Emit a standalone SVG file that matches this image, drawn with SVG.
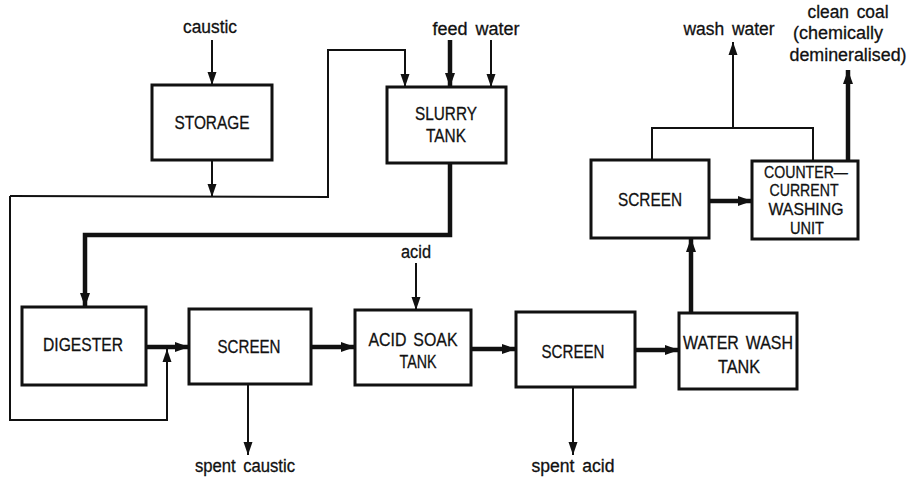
<svg xmlns="http://www.w3.org/2000/svg" width="918" height="477" viewBox="0 0 918 477">
<style>
.box{fill:#fff;stroke:#111;stroke-width:3}
.lbl{font-family:"Liberation Sans",Arial,sans-serif;font-size:19px;fill:#111;text-anchor:middle;stroke:#111;stroke-width:0.3}
.lc{font-size:18px;word-spacing:3px}
.cc{font-size:17px}
.thin{fill:none;stroke:#111;stroke-width:2}
.thick{fill:none;stroke:#111;stroke-width:4.5}
</style>
<defs>
<marker id="a" markerUnits="userSpaceOnUse" markerWidth="14" markerHeight="10" refX="13" refY="5" orient="auto"><path d="M0,0.5 L13,5 L0,9.5 z" fill="#111"/></marker>
<marker id="b" markerUnits="userSpaceOnUse" markerWidth="15" markerHeight="11" refX="14" refY="5.5" orient="auto"><path d="M0,0.5 L14,5.5 L0,10.5 z" fill="#111"/></marker>
</defs>
<rect width="918" height="477" fill="#fff"/>
<g id="connectors">
<path class="thin" d="M212,40 L212,85" marker-end="url(#a)"/>
<path class="thin" d="M212,160 L212,197" marker-end="url(#a)"/>
<path class="thin" d="M10,196 L328,197 L328,50 L405,50 L405,87" marker-end="url(#a)"/>
<path class="thin" d="M10,196 L10,420 L167,420 L167,349" marker-end="url(#a)"/>
<path class="thick" d="M450,40 L450,87" marker-end="url(#b)"/>
<path class="thin" d="M491,40 L491,87" marker-end="url(#a)"/>
<path class="thick" d="M450,163 L450,235 L85,235 L85,307" marker-end="url(#b)"/>
<path class="thick" d="M146,347 L189,347" marker-end="url(#b)"/>
<path class="thin" d="M248,384 L248,455" marker-end="url(#a)"/>
<path class="thick" d="M311,347 L355,347" marker-end="url(#b)"/>
<path class="thin" d="M416,263 L416,310" marker-end="url(#a)"/>
<path class="thick" d="M471,349 L516,349" marker-end="url(#b)"/>
<path class="thin" d="M573,387 L573,455" marker-end="url(#a)"/>
<path class="thick" d="M635,350 L679,350" marker-end="url(#b)"/>
<path class="thick" d="M691,313 L691,238" marker-end="url(#b)"/>
<path class="thick" d="M709,201 L752,201" marker-end="url(#b)"/>
<path class="thin" d="M652,160 L652,128 L813,128 L813,161"/>
<path class="thin" d="M733,128 L733,42" marker-end="url(#a)"/>
<path class="thick" d="M848,161 L848,70" marker-end="url(#b)"/>
</g>
<g id="labels">
<text class="lbl lc" x="210" y="33" textLength="54" lengthAdjust="spacingAndGlyphs">caustic</text>
<text class="lbl lc" x="476" y="35" textLength="87" lengthAdjust="spacingAndGlyphs">feed water</text>
<text class="lbl lc" x="729" y="35" textLength="91" lengthAdjust="spacingAndGlyphs">wash water</text>
<text class="lbl lc" x="848" y="18" textLength="81" lengthAdjust="spacingAndGlyphs">clean coal</text>
<text class="lbl lc" x="838" y="39" textLength="90" lengthAdjust="spacingAndGlyphs">(chemically</text>
<text class="lbl lc" x="848" y="61" textLength="117" lengthAdjust="spacingAndGlyphs">demineralised)</text>
<text class="lbl lc" x="416" y="258" textLength="30" lengthAdjust="spacingAndGlyphs">acid</text>
<text class="lbl lc" x="245" y="472" textLength="100" lengthAdjust="spacingAndGlyphs">spent caustic</text>
<text class="lbl lc" x="573" y="472" textLength="83" lengthAdjust="spacingAndGlyphs">spent acid</text>
</g>
<g id="storage">
<rect class="box" x="152" y="85" width="120" height="75"/>
<text class="lbl" x="212" y="129" textLength="75" lengthAdjust="spacingAndGlyphs">STORAGE</text>
</g>
<g id="slurry-tank">
<rect class="box" x="387" y="87" width="119" height="76"/>
<text class="lbl" x="446" y="120" textLength="62" lengthAdjust="spacingAndGlyphs">SLURRY</text>
<text class="lbl" x="446" y="142" textLength="40" lengthAdjust="spacingAndGlyphs">TANK</text>
</g>
<g id="digester">
<rect class="box" x="22" y="307" width="124" height="78"/>
<text class="lbl" x="83" y="351" textLength="80" lengthAdjust="spacingAndGlyphs">DIGESTER</text>
</g>
<g id="screen1">
<rect class="box" x="189" y="309" width="122" height="75"/>
<text class="lbl" x="249" y="353" textLength="63" lengthAdjust="spacingAndGlyphs">SCREEN</text>
</g>
<g id="acid-soak-tank">
<rect class="box" x="355" y="310" width="116" height="75"/>
<text class="lbl" x="413" y="346" textLength="89" lengthAdjust="spacingAndGlyphs" word-spacing="3">ACID SOAK</text>
<text class="lbl" x="418" y="368" textLength="37" lengthAdjust="spacingAndGlyphs">TANK</text>
</g>
<g id="screen2">
<rect class="box" x="516" y="312" width="119" height="75"/>
<text class="lbl" x="573" y="358" textLength="63" lengthAdjust="spacingAndGlyphs">SCREEN</text>
</g>
<g id="water-wash-tank">
<rect class="box" x="679" y="313" width="118" height="76"/>
<text class="lbl" x="738" y="349" textLength="110" lengthAdjust="spacingAndGlyphs" word-spacing="3">WATER WASH</text>
<text class="lbl" x="739" y="373" textLength="42" lengthAdjust="spacingAndGlyphs">TANK</text>
</g>
<g id="screen3">
<rect class="box" x="591" y="160" width="118" height="78"/>
<text class="lbl" x="650" y="206" textLength="64" lengthAdjust="spacingAndGlyphs">SCREEN</text>
</g>
<g id="counter-current-washing-unit">
<rect class="box" x="752" y="161" width="106" height="78"/>
<text class="lbl cc" x="806" y="178" textLength="84" lengthAdjust="spacingAndGlyphs">COUNTER—</text>
<text class="lbl cc" x="804" y="196" textLength="69" lengthAdjust="spacingAndGlyphs">CURRENT</text>
<text class="lbl cc" x="806" y="215" textLength="75" lengthAdjust="spacingAndGlyphs">WASHING</text>
<text class="lbl cc" x="807" y="234" textLength="34" lengthAdjust="spacingAndGlyphs">UNIT</text>
</g>
</svg>
